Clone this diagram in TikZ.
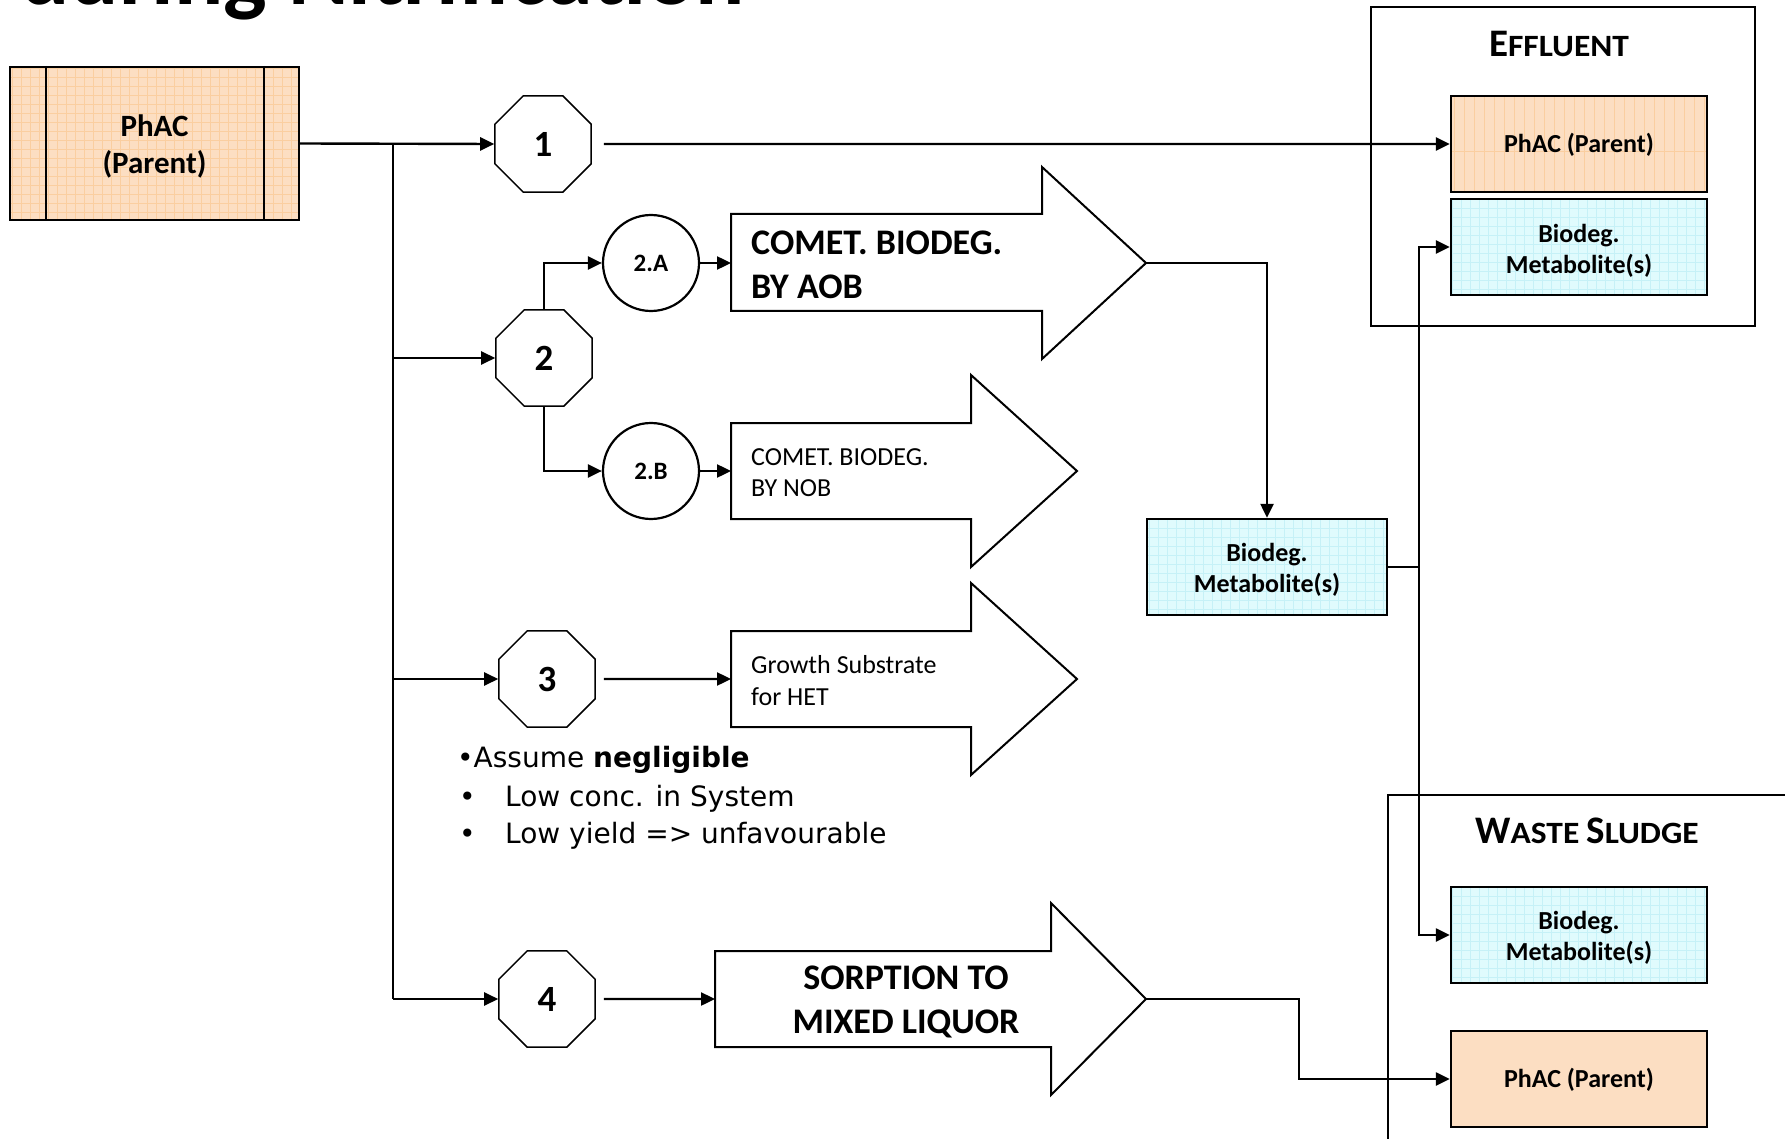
\documentclass[tikz,border=0pt]{standalone}
\usepackage{fontspec}
\setmainfont{Carlito}
\newfontfamily\dejavu{DejaVu Sans}
\usetikzlibrary{shapes.geometric,arrows.meta}
\definecolor{peach}{RGB}{252,222,194}
\definecolor{peachgrid}{RGB}{250,206,160}
\definecolor{cyanfill}{RGB}{224,251,253}
\definecolor{cyangrid}{RGB}{198,241,247}
\newcommand\fsz[2]{\fontsize{#1}{#2}\selectfont}
\newcommand\twolines[3]{\raisebox{#1}[\height][\depth]{\begin{tabular}{@{}c@{}}#2\\#3\end{tabular}}}
\begin{document}
\begin{tikzpicture}[x=1pt,y=-1pt,
  conn/.style={line width=2.4pt},
  arr/.style={-{Triangle[length=14pt,width=13pt]}},
  octa/.style={regular polygon, regular polygon sides=8, minimum size=104pt, inner sep=0pt, draw, line width=1.5pt, font=\bfseries\fsz{37}{37}},
  circ/.style={circle, minimum size=96pt, inner sep=0pt, draw, line width=2.2pt, font=\bfseries\fsz{25}{25}},
  bigarrow/.style={draw, line width=2pt, fill=white, line join=miter},
  databox/.style={draw, line width=2.4pt, minimum width=256pt, minimum height=96pt, inner sep=0pt, align=center, font=\bfseries\fsz{26}{31}},
  gridP/.style={fill=peach, path picture={\draw[peachgrid, line width=0.7pt, step=9pt] (path picture bounding box.south west) grid (path picture bounding box.north east);}},
  vlineP/.style={fill=peach, path picture={\draw[peachgrid, line width=0.8pt, xstep=10pt, ystep=3000pt] (path picture bounding box.south west) grid (path picture bounding box.north east);}},
  gridC/.style={fill=cyanfill, path picture={\draw[cyangrid, line width=0.7pt, step=9pt] (path picture bounding box.south west) grid (path picture bounding box.north east);}},
  plaintext/.style={inner sep=0pt, align=left},
  frame/.style={draw, line width=2.4pt, inner sep=0pt}
]
\useasboundingbox (0,0) rectangle (1785,1139);

% clipped title
\node (title) [anchor=base east, inner sep=0pt, font=\bfseries\fsz{92}{92}] at (745,5) {during Nitrification};

% outer frames
\node (eff) [frame, minimum width=384pt, minimum height=319pt] at (1563,166.5) {};
\node (effT) [anchor=base, inner sep=0pt, font=\bfseries] at (1559,57)
  {\fsz{39}{39}E\fsz{31}{31}\scalebox{1.08}[1]{FFLUENT}};
\node (waste) [frame, minimum width=440pt, minimum height=400pt, anchor=north west] at (1387,794) {};
\node (wasteT) [anchor=base, inner sep=0pt, font=\bfseries] at (1587,843)
  {\fsz{39}{39}W\fsz{31}{31}\scalebox{1.08}[1]{ASTE} \fsz{39}{39}S\fsz{31}{31}\scalebox{1.08}[1]{LUDGE}};

% parent
\node (parent) [databox, gridP, minimum width=289pt, minimum height=153pt, font=\bfseries\fsz{31}{37}] at (154.5,143.5) {\twolines{-4pt}{PhAC}{(Parent)}};
\draw[line width=2.4pt] ([xshift=37pt]parent.north west) -- ([xshift=37pt]parent.south west);
\draw[line width=2.4pt] ([xshift=-36pt]parent.north east) -- ([xshift=-36pt]parent.south east);

% destination boxes
\node (effP) [databox, vlineP] at (1579,144) {\raisebox{-1pt}[\height][\depth]{PhAC (Parent)}};
\node (effM) [databox, gridC] at (1579,247) {\twolines{-4.5pt}{Biodeg.}{Metabolite(s)}};
\node (midM) [databox, gridC, minimum width=240pt] at (1267,567) {\twolines{-3.5pt}{Biodeg.}{Metabolite(s)}};
\node (wasM) [databox, gridC] at (1579,935) {\twolines{-4pt}{Biodeg.}{Metabolite(s)}};
\node (wasP) [databox, fill=peach] at (1579,1079) {\raisebox{-1pt}[\height][\depth]{PhAC (Parent)}};

% octagons and circles
\node (o1) [octa] at (543,144) {1};
\node (o2) [octa] at (544,358) {2};
\node (o3) [octa] at (547,679) {3};
\node (o4) [octa] at (547,999) {4};
\node (cA) [circ] at (651,263) {2.A};
\node (cB) [circ] at (651,471) {2.B};

% big arrows
\draw[bigarrow] (731,214) -- (1042,214) -- (1042,167) -- (1146,263) -- (1042,359) -- (1042,311) -- (731,311) -- cycle;
\coordinate (Ain) at (731,263); \coordinate (Atip) at (1146,263);
\node (Atext) [plaintext, anchor=west, font=\bfseries\fsz{36}{44}] at (751,265) {COMET. BIODEG.\\BY AOB};

\draw[bigarrow] (731,423) -- (971,423) -- (971,375) -- (1077,471) -- (971,567) -- (971,519) -- (731,519) -- cycle;
\coordinate (Bin) at (731,471);
\node (Btext) [plaintext, anchor=west, font=\fsz{26}{31}] at (751,473) {COMET. BIODEG.\\BY NOB};

\draw[bigarrow] (731,631) -- (971,631) -- (971,583) -- (1077,679) -- (971,775) -- (971,727) -- (731,727) -- cycle;
\coordinate (Cin) at (731,679);
\node (Ctext) [plaintext, anchor=west, font=\fsz{26}{32}] at (751,681) {Growth Substrate\\for HET};

\draw[bigarrow] (715,951) -- (1051,951) -- (1051,903) -- (1146,999) -- (1051,1095) -- (1051,1047) -- (715,1047) -- cycle;
\coordinate (Din) at (715,999); \coordinate (Dtip) at (1146,999);
\node (Dtext) [inner sep=0pt, align=center, font=\bfseries\fsz{36}{44}] at (906,1002) {SORPTION TO\\MIXED LIQUOR};

% notes
\node (n1) [plaintext, anchor=base west, font=\dejavu\fsz{28}{38}] at (457,767) {•Assume \textbf{negligible}};
\node (n2) [plaintext, anchor=base west, font=\dejavu\fsz{28}{38}] at (459,806) {\makebox[46pt][l]{•}Low conc. in System};
\node (n3) [plaintext, anchor=base west, font=\dejavu\fsz{28}{38}] at (459,843) {\makebox[46pt][l]{•}Low yield => unfavourable};

% connectors
\coordinate (tr) at (393,144);
\draw[conn, arr] (parent.east) -- (o1.west);
\draw[conn] (tr) -- (tr |- o4.west);
\draw[conn, arr] (tr |- o2.west) -- (o2.west);
\draw[conn, arr] (tr |- o3.west) -- (o3.west);
\draw[conn, arr] (tr |- o4.west) -- (o4.west);

\draw[conn, arr, shorten <=12pt] (o1.east) -- (effP.west);
\draw[conn, arr] (o2.north) |- (cA.west);
\draw[conn, arr] (o2.south) |- (cB.west);
\draw[conn, arr] (cA.east) -- (Ain);
\draw[conn, arr] (cB.east) -- (Bin);
\draw[conn, arr, shorten <=8pt] (o3.east) -- (Cin);
\draw[conn, arr, shorten <=8pt] (o4.east) -- (Din);

\draw[conn, arr] (Atip) -| (midM.north);
\coordinate (vj) at (1419,567);
\draw[conn] (midM.east) -- (vj);
\draw[conn, arr] (vj) |- (effM.west);
\draw[conn, arr] (vj) |- (wasM.west);

\coordinate (dj) at (1299,999);
\draw[conn, arr] (Dtip) -- (dj) |- (wasP.west);
\end{tikzpicture}
\end{document}
